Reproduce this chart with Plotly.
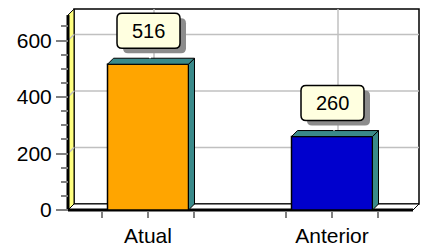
import plotly.graph_objects as go

# ---- data ----
categories = ["Atual", "Anterior"]
values = [516, 260]
bar_colors = ["#FFA500", "#0000CD"]
y_major_ticks = [0, 200, 400, 600]
y_minor_ticks = [50, 100, 150, 250, 300, 350, 450, 500, 550, 650]
x_minor_ticks = [-0.25, 0.25, 0.75, 1.25]
y_front_top = 690

# ---- geometry (pixels) ----
W, H = 425, 249
PL, PR, PT, PB = 62, 423, 5, 215          # plot area in pixels
FRONT_LEFT_PX, FRONT_RIGHT_PX, FLOOR_PX = 68, 413, 210
CAT0_PX = 148
PXU = 184.0     # px per category unit
PYU = 0.2825    # px per value unit
DEPTH = 6       # 3D depth in px

x_range = [(PL - CAT0_PX) / PXU, (PR - CAT0_PX) / PXU]
y_range = [-(PB - FLOOR_PX) / PYU, (FLOOR_PX - PT) / PYU]
xL = (FRONT_LEFT_PX - CAT0_PX) / PXU
xR = (FRONT_RIGHT_PX - CAT0_PX) / PXU
dx = DEPTH / PXU
dy = DEPTH / PYU
bar_w = 81 / PXU
xs = list(range(len(categories)))

GRID = "#C0C0C0"
shapes = []

def path(pts):
    return "M " + " L ".join(f"{a},{b}" for a, b in pts) + " Z"

# back wall
shapes.append(dict(type="rect", xref="x", yref="y", x0=xL + dx, x1=xR + dx,
                   y0=dy, y1=y_front_top + dy, fillcolor="white",
                   line=dict(color="black", width=1.5), layer="below"))
# horizontal gridlines on back wall
for v in y_major_ticks[1:]:
    shapes.append(dict(type="line", xref="x", yref="y", x0=xL + dx, x1=xR + dx,
                       y0=v + dy, y1=v + dy, line=dict(color=GRID, width=1.5), layer="below"))
# vertical gridlines at categories
for x in xs:
    shapes.append(dict(type="line", xref="x", yref="y", x0=x + dx, x1=x + dx,
                       y0=dy, y1=y_front_top + dy, line=dict(color=GRID, width=1.5), layer="below"))
# left wall
shapes.append(dict(type="path", xref="x", yref="y",
                   path=path([(xL, 0), (xL + dx, dy), (xL + dx, y_front_top + dy), (xL, y_front_top)]),
                   fillcolor="#FFFF80", line=dict(color="black", width=1), layer="below"))
for v in y_major_ticks[1:]:
    shapes.append(dict(type="line", xref="x", yref="y", x0=xL, x1=xL + dx,
                       y0=v, y1=v + dy, line=dict(color=GRID, width=1.5), layer="below"))
# floor
shapes.append(dict(type="path", xref="x", yref="y",
                   path=path([(xL, 0), (xR, 0), (xR + dx, dy), (xL + dx, dy)]),
                   fillcolor="white", line=dict(color="black", width=1), layer="below"))
# thick front edges
shapes.append(dict(type="line", xref="x", yref="y", x0=xL, x1=xR, y0=0, y1=0,
                   line=dict(color="black", width=3), layer="below"))
shapes.append(dict(type="line", xref="x", yref="y", x0=xL, x1=xL, y0=0, y1=y_front_top,
                   line=dict(color="black", width=3), layer="below"))

TEAL = "#3A8A8A"


def rrect(x0, x1, y0, y1, rr=5):
    return (f"M {x0+rr},{y0} L {x1-rr},{y0} Q {x1},{y0} {x1},{y0+rr} "
            f"L {x1},{y1-rr} Q {x1},{y1} {x1-rr},{y1} L {x0+rr},{y1} "
            f"Q {x0},{y1} {x0},{y1-rr} L {x0},{y0+rr} Q {x0},{y0} {x0+rr},{y0} Z")


annotations = []
for x, v in zip(xs, values):
    l, r = x - bar_w / 2, x + bar_w / 2
    # side face
    shapes.append(dict(type="path", xref="x", yref="y",
                       path=path([(r, 0), (r + dx, dy), (r + dx, v + dy), (r, v)]),
                       fillcolor=TEAL, line=dict(color="black", width=1), layer="above"))
    # top face
    shapes.append(dict(type="path", xref="x", yref="y",
                       path=path([(l, v), (l + dx, v + dy), (r + dx, v + dy), (r, v)]),
                       fillcolor=TEAL, line=dict(color="black", width=1), layer="above"))
    # leader line
    shapes.append(dict(type="line", xref="x", yref="y", xsizemode="pixel", ysizemode="pixel",
                       xanchor=x, yanchor=v, x0=2, x1=2, y0=DEPTH, y1=17,
                       line=dict(color="white", width=2), layer="above"))
    # label box shadow + box (rounded)
    shapes.append(dict(type="path", xref="x", yref="y", xsizemode="pixel", ysizemode="pixel",
                       xanchor=x, yanchor=v, path=rrect(-25, 38, 11, 46),
                       fillcolor="#8C8C8C", line=dict(width=0), layer="above"))
    shapes.append(dict(type="path", xref="x", yref="y", xsizemode="pixel", ysizemode="pixel",
                       xanchor=x, yanchor=v, path=rrect(-31, 32, 16, 51),
                       fillcolor="#FFFFE0", line=dict(color="black", width=1.5), layer="above"))
    annotations.append(dict(x=x, y=v, xref="x", yref="y", text=str(v), showarrow=False,
                            xshift=0.5, yshift=33.5, font=dict(size=20, color="black")))

fig = go.Figure()
fig.add_trace(go.Bar(x=xs, y=values, width=bar_w, marker=dict(color=bar_colors,
                     line=dict(color="black", width=1.5)), hoverinfo="skip"))

fig.update_layout(
    width=W, height=H,
    margin=dict(l=PL, r=W - PR, t=PT, b=H - PB, pad=0),
    paper_bgcolor="white", plot_bgcolor="rgba(0,0,0,0)",
    font=dict(family="Liberation Sans, Arial, sans-serif", size=21, color="black"),
    showlegend=False,
    shapes=shapes, annotations=annotations,
    xaxis=dict(range=x_range, anchor="free", position=(PB - FLOOR_PX) / (PB - PT),
               tickmode="array", tickvals=xs, ticktext=categories,
               ticks="outside", ticklen=7, tickwidth=1.5, tickcolor="#808080",
               minor=dict(tickmode="array", tickvals=x_minor_ticks, ticks="outside",
                          ticklen=7, tickwidth=1.5, tickcolor="#808080", showgrid=False),
               showgrid=False, zeroline=False, showline=False, fixedrange=True),
    yaxis=dict(range=y_range, anchor="free", position=(FRONT_LEFT_PX - PL) / (PR - PL),
               tickmode="array", tickvals=y_major_ticks,
               ticks="outside", ticklen=12, tickwidth=1.5, tickcolor="#808080",
               minor=dict(tickmode="array", tickvals=y_minor_ticks, ticks="outside",
                          ticklen=7, tickwidth=1.5, tickcolor="#808080", showgrid=False),
               showgrid=False, zeroline=False, showline=False, fixedrange=True),
)

fig.write_html("out.html", config=dict(displayModeBar=False),
               post_script="document.body.style.margin='0';document.body.style.overflow='hidden';")
